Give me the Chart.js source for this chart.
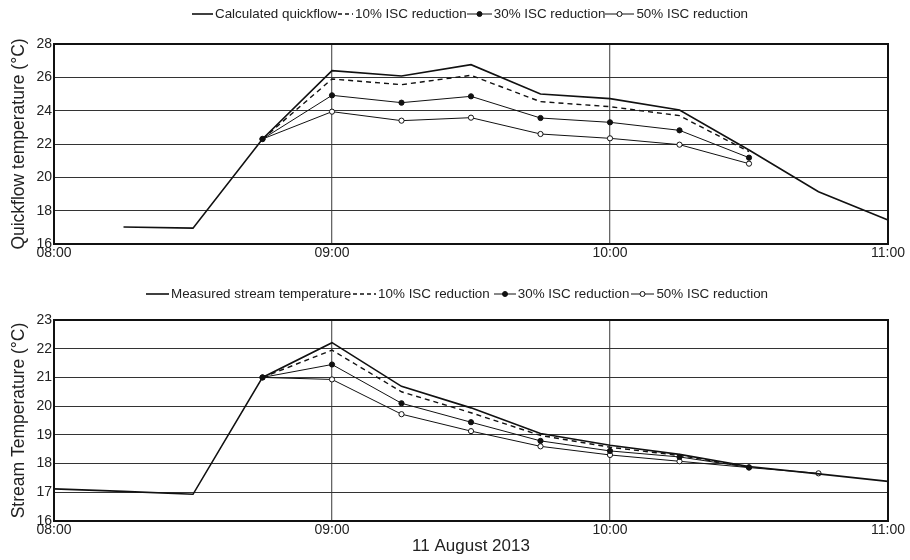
<!DOCTYPE html>
<html>
<head>
<meta charset="utf-8">
<script src="https://cdn.jsdelivr.net/npm/chart.js@4.4.1/dist/chart.umd.min.js"></script>
<style>
  body { margin: 0; background: #fff; }
  #wrap { position: relative; width: 910px; height: 560px; font-family: "Liberation Sans", Arial, sans-serif; color: #222; }
  .chartBox { position: absolute; left: 0; width: 910px; }
  .legend { position: absolute; display: flex; align-items: center; font-size: 13.4px; white-space: nowrap; line-height: 16px; }
  .legend svg { display: block; }
</style>
</head>
<body>
<div id="wrap">
  <div class="chartBox" style="top:0; height:270px;"><canvas id="quickflowChart"></canvas></div>
  <div class="chartBox" style="top:270px; height:290px;"><canvas id="streamChart"></canvas></div>
  <div class="legend" id="legendTop" style="left:192px; top:6px;"></div>
  <div class="legend" id="legendBottom" style="left:146px; top:286px;"></div>
</div>
<script>
// 15 minute steps, 08:00 - 11:00
const times = ['08:00', '08:15', '08:30', '08:45', '09:00', '09:15', '09:30', '09:45',
               '10:00', '10:15', '10:30', '10:45', '11:00'];

// Quickflow temperature (top panel)
const calcQuickflow = [null, 17.02, 16.95, 22.3, 26.4, 26.08, 26.76, 25.0, 24.72, 24.04, 21.64, 19.14, 17.44];
const quick10 = [null, null, null, 22.3, 25.9, 25.56, 26.12, 24.54, 24.24, 23.7, 21.54, null, null];
const quick30 = [null, null, null, 22.3, 24.92, 24.48, 24.86, 23.56, 23.3, 22.82, 21.18, null, null];
const quick50 = [null, null, null, 22.3, 23.94, 23.4, 23.58, 22.6, 22.34, 21.96, 20.82, null, null];

// Stream temperature (bottom panel)
const measuredStream = [17.12, 17.03, 16.93, 21.0, 22.21, 20.69, 19.94, 19.05, 18.64, 18.32, 17.9, 17.64, 17.38];
const stream10 = [null, null, null, 21.0, 21.95, 20.5, 19.77, 18.98, 18.57, 18.28, 17.88, null, null];
const stream30 = [null, null, null, 21.0, 21.45, 20.1, 19.44, 18.79, 18.44, 18.23, 17.87, null, null];
const stream50 = [null, null, null, 21.0, 20.93, 19.72, 19.13, 18.6, 18.3, 18.08, 17.86, 17.66, null];

const topLabels = ['Calculated quickflow', '10% ISC reduction', '30% ISC reduction', '50% ISC reduction'];
const bottomLabels = ['Measured stream temperature', '10% ISC reduction', '30% ISC reduction', '50% ISC reduction'];

const FONT = "'Liberation Sans', Arial, sans-serif";
Chart.defaults.font.family = FONT;
Chart.defaults.color = '#222';

// line styles: solid, dashed, filled dots, open dots
const styles = [
    { borderWidth: 1.6, borderDash: [], pointRadius: 0, pointBackgroundColor: '#111' },
    { borderWidth: 1.4, borderDash: [5, 4], pointRadius: 0, pointBackgroundColor: '#111' },
    { borderWidth: 1, borderDash: [], pointRadius: 2.6, pointBackgroundColor: '#111' },
    { borderWidth: 1, borderDash: [], pointRadius: 2.6, pointBackgroundColor: '#fff' }
];

function makeDatasets(labels, series) {
    return series.map((data, i) => ({
        label: labels[i],
        data: data,
        borderColor: '#111',
        backgroundColor: '#111',
        borderWidth: styles[i].borderWidth,
        borderDash: styles[i].borderDash,
        pointRadius: styles[i].pointRadius,
        pointBackgroundColor: styles[i].pointBackgroundColor,
        pointBorderColor: '#111',
        pointBorderWidth: 1,
        tension: 0,
        spanGaps: false
    }));
}

// black frame round the plot area
const framePlugin = {
    id: 'frame',
    afterDraw(chart) {
        const { ctx, chartArea: a } = chart;
        ctx.save();
        ctx.strokeStyle = '#111';
        ctx.lineWidth = 2;
        ctx.strokeRect(a.left, a.top, a.right - a.left, a.bottom - a.top);
        ctx.restore();
    }
};

function makeOptions(yMin, yMax, step, yTitle, xTitle, padTop, xHeight) {
    return {
        responsive: true,
        maintainAspectRatio: false,
        animation: false,
        layout: { padding: { top: padTop, right: 22, left: 0, bottom: 0 } },
        plugins: { legend: { display: false }, tooltip: { enabled: false } },
        scales: {
            x: {
                type: 'category',
                offset: false,
                border: { display: false },
                grid: {
                    drawTicks: false,
                    lineWidth: 1.3,
                    color: ctx => (times[ctx.index] === '09:00' || times[ctx.index] === '10:00') ? '#666' : 'rgba(0,0,0,0)'
                },
                ticks: {
                    autoSkip: false,
                    maxRotation: 0,
                    padding: 1,
                    font: { size: 14 },
                    color: '#222',
                    callback: (v, i) => times[i].endsWith(':00') ? times[i] : ''
                },
                title: {
                    display: !!xTitle,
                    text: xTitle,
                    font: { size: 17 },
                    color: '#222',
                    padding: { top: 0, bottom: 3 }
                },
                afterFit: scale => { scale.height = xHeight; }
            },
            y: {
                min: yMin,
                max: yMax,
                border: { display: false },
                grid: { drawTicks: false, color: '#333', lineWidth: 1 },
                ticks: { stepSize: step, padding: 2, font: { size: 14 }, color: '#222' },
                title: {
                    display: true,
                    text: yTitle,
                    font: { size: 17.5 },
                    color: '#222',
                    padding: { top: 9, bottom: 0 }
                },
                afterFit: scale => { scale.width = 54; }
            }
        }
    };
}

new Chart(document.getElementById('quickflowChart'), {
    type: 'line',
    data: { labels: times, datasets: makeDatasets(topLabels, [calcQuickflow, quick10, quick30, quick50]) },
    options: makeOptions(16, 28, 2, 'Quickflow temperature (°C)', '', 44, 26),
    plugins: [framePlugin]
});

new Chart(document.getElementById('streamChart'), {
    type: 'line',
    data: { labels: times, datasets: makeDatasets(bottomLabels, [measuredStream, stream10, stream30, stream50]) },
    options: makeOptions(16, 23, 1, 'Stream Temperature (°C)', '11 August 2013', 50, 39),
    plugins: [framePlugin]
});

// legend: symbol + text, symbols drawn as small svg
function symbolSvg(i, w) {
    const y = 8;
    let s = '<svg width="' + w + '" height="16">';
    if (i === 1) {
        s += '<line x1="1" y1="' + y + '" x2="' + w + '" y2="' + y + '" stroke="#111" stroke-width="1.3" stroke-dasharray="4 3"/>';
    } else {
        s += '<line x1="0" y1="' + y + '" x2="' + w + '" y2="' + y + '" stroke="#111" stroke-width="' + (i === 0 ? 1.6 : 1) + '"/>';
    }
    if (i >= 2) {
        s += '<circle cx="' + (w / 2) + '" cy="' + y + '" r="2.5" stroke="#111" stroke-width="1" fill="' + styles[i].pointBackgroundColor + '"/>';
    }
    return s + '</svg>';
}

function buildLegend(id, labels, widths, gaps) {
    const el = document.getElementById(id);
    el.innerHTML = labels.map((lab, i) =>
        '<span style="margin-left:' + gaps[i] + 'px">' + symbolSvg(i, widths[i]) + '</span>' +
        '<span style="margin-left:2px">' + lab + '</span>').join('');
}

buildLegend('legendTop', topLabels, [21, 16, 25, 29], [0, 0, 0, 0]);
buildLegend('legendBottom', bottomLabels, [23, 24, 22, 23], [0, 1, 4, 2]);
</script>
</body>
</html>
